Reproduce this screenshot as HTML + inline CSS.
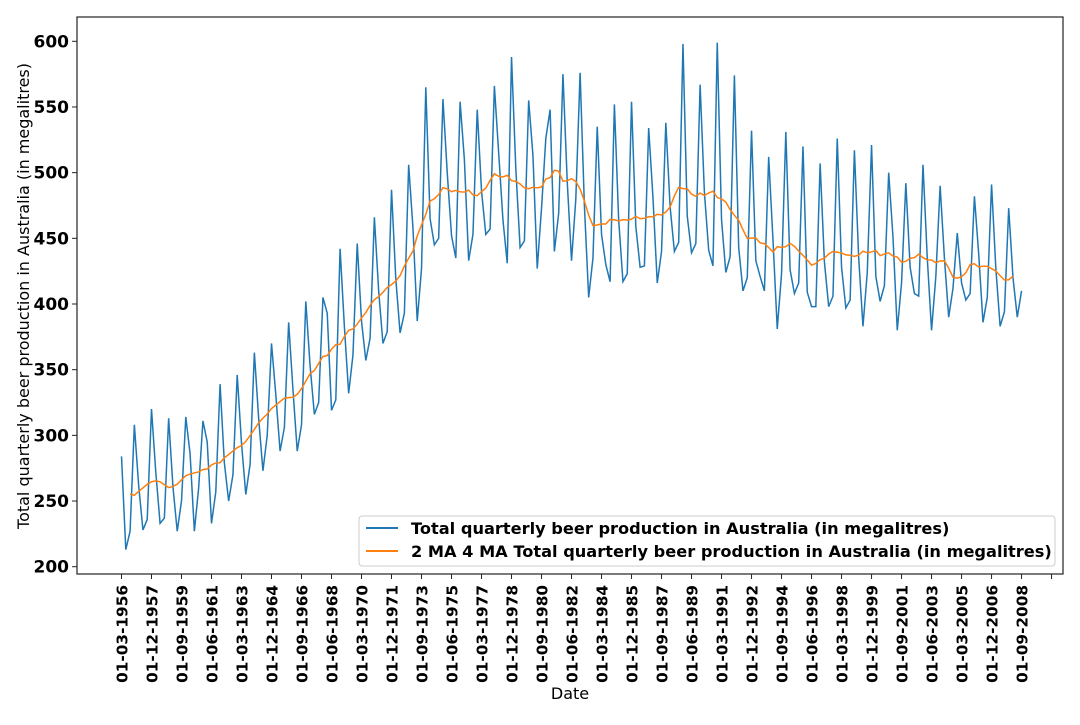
<!DOCTYPE html>
<html><head><meta charset="utf-8"><style>
body{margin:0;background:#fff;width:1080px;height:720px;overflow:hidden}
svg text{font-family:"DejaVu Sans","Liberation Sans",sans-serif}
</style></head><body>
<svg id="chart" width="1080" height="720"></svg>
<script>
const years=[];for(let y=1956;y<=2008;y++)years.push(y);
const beerValues=[284,213,227,308,262,228,236,320,272,233,237,313,261,227,250,314,286,227,260,311,295,233,257,339,279,250,270,346,294,255,278,363,313,273,300,370,331,288,306,386,335,288,308,402,353,316,325,405,393,319,327,442,383,332,361,446,387,357,374,466,410,370,379,487,419,378,393,506,458,387,427,565,465,445,450,556,500,452,435,554,510,433,453,548,486,453,457,566,515,464,431,588,503,443,448,555,513,427,473,526,548,440,469,575,493,433,480,576,475,405,435,535,453,430,417,552,464,417,423,554,459,428,429,534,481,416,440,538,474,440,447,598,467,439,446,567,485,441,429,599,464,424,436,574,443,410,420,532,433,421,410,512,449,381,423,531,426,408,416,520,409,398,398,507,432,398,406,526,428,397,403,517,435,383,424,521,421,402,414,500,451,380,416,492,428,408,406,506,435,380,421,490,435,390,412,454,416,403,408,482,438,386,405,491,427,383,394,473,420,390,410];
const yTicks=[200,250,300,350,400,450,500,550,600];
const NS='http://www.w3.org/2000/svg';
const svg=document.getElementById('chart');
const L=77,R=1063,T=17,B=574;
const xs=i=>121.5+i*4.286;
const ys=v=>566.7-(v-200)*1.3135;
function el(t,a,p){const e=document.createElementNS(NS,t);for(const k in a)e.setAttribute(k,a[k]);(p||svg).appendChild(e);return e;}
function lbl(i){const y=1956+Math.floor(i/4);const m=['03','06','09','12'][i%4];return '01-'+m+'-'+y;}
const ma=[];
for(let i=2;i<beerValues.length-2;i++){
 ma.push([i,(beerValues[i-2]/2+beerValues[i-1]+beerValues[i]+beerValues[i+1]+beerValues[i+2]/2)/4]);
}
const fr=el('rect',{x:L,y:T,width:R-L,height:B-T,fill:'none',stroke:'#222','stroke-width':1.2});

yTicks.forEach(v=>{
 const y=ys(v);
 el('line',{x1:L-5,x2:L,y1:y,y2:y,stroke:'#222'});
 const t=el('text',{x:L-8,y:y+6,'text-anchor':'end','font-size':17,'font-weight':'bold',fill:'#000'});
 t.textContent=v;
 
 
});
for(let i=0;i<=217;i+=7){
 const x=xs(i);
 el('line',{x1:x,x2:x,y1:B,y2:B+5,stroke:'#222'});
 if(i<beerValues.length){
  const t=el('text',{x:0,y:0,transform:`translate(${x+6},${B+11}) rotate(-90)`,'text-anchor':'end','font-size':15.3,'font-weight':'bold',fill:'#000'});
  t.textContent=lbl(i);
  
  
 }
}
const p1=el('polyline',{points:beerValues.map((v,i)=>xs(i)+','+ys(v)).join(' '),fill:'none',stroke:'#1f77b4','stroke-width':1.5});

const p2=el('polyline',{points:ma.map(d=>xs(d[0])+','+ys(d[1])).join(' '),fill:'none',stroke:'#ff7f0e','stroke-width':1.5});

const xl=el('text',{x:570,y:699,'text-anchor':'middle','font-size':16,fill:'#000'});xl.textContent='Date';

const yl=el('text',{x:0,y:0,transform:'translate(29,296) rotate(-90)','text-anchor':'middle','font-size':16,fill:'#000'});
yl.textContent='Total quarterly beer production in Australia (in megalitres)';

const g=el('g',{});
el('rect',{x:359,y:516,width:696,height:50,rx:3,fill:'#fff','fill-opacity':0.8,stroke:'#ccc'},g);
el('line',{x1:366,x2:398,y1:528,y2:528,stroke:'#1f77b4','stroke-width':2},g);
el('line',{x1:366,x2:398,y1:551,y2:551,stroke:'#ff7f0e','stroke-width':2},g);
const t1=el('text',{x:411,y:534,'font-size':16.2,'font-weight':'bold'},g);t1.textContent='Total quarterly beer production in Australia (in megalitres)';

const t2=el('text',{x:411,y:557,'font-size':16.2,'font-weight':'bold'},g);t2.textContent='2 MA 4 MA Total quarterly beer production in Australia (in megalitres)';

</script>
</body></html>
